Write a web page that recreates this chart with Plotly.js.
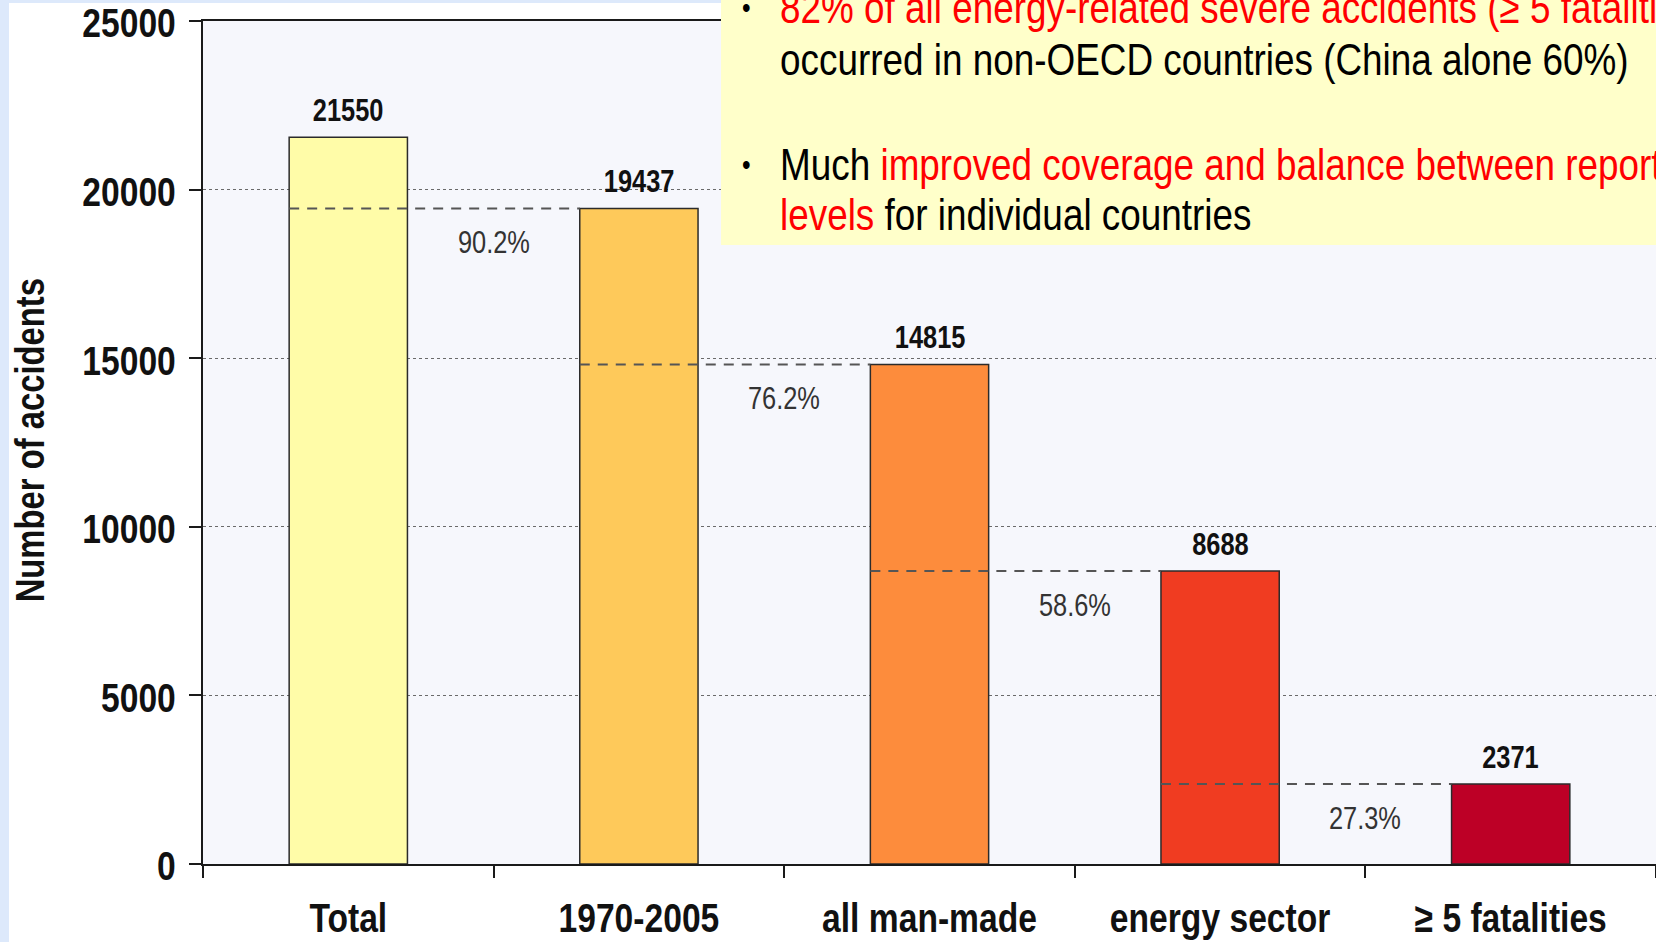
<!DOCTYPE html>
<html>
<head>
<meta charset="utf-8">
<script src="https://cdn.plot.ly/plotly-3.0.1.min.js"></script>
<style>
  html, body { margin:0; padding:0; width:1656px; height:942px; overflow:hidden; background:#dde9fb; }
  #chart { position:absolute; left:9px; top:0px; width:1647px; height:942px; }
</style>
</head>
<body>
<div id="chart"></div>
<script>
// ---- data ----
const categories = ['Total', '1970-2005', 'all man-made', 'energy sector', '\u2265 5 fatalities'];
const accidents = [21550, 19437, 14815, 8688, 2371];
const yTickValues = [0, 5000, 10000, 15000, 20000, 25000];
const yAxisLabel = 'Number of accidents';
const noteLines = [
  [{t: '82% of all energy-related severe accidents (\u2265 5 fatalities)', red: true}],
  [{t: 'occurred in non-OECD countries (China alone 60%)', red: false}],
  [{t: 'Much ', red: false}, {t: 'improved coverage and balance between reporting', red: true}],
  [{t: 'levels', red: true}, {t: ' for individual countries', red: false}]
];
const bulletLines = [0, 2];

// ---- style ----
const barColors = ['#fffca8', '#fec95a', '#fd8c3c', '#f03c21', '#bd0026'];
const FONT = '"Liberation Sans", Arial, sans-serif';
const NARROW_SCALE = 0.82;   // emulate a narrow face
const barWidth = 0.407;

const W = 1647, H = 942;
const M = {l: 194, r: 0, t: 21, b: 78};
const PW = W - M.l - M.r, PH = H - M.t - M.b;
const px2x = p => (p - 9 - M.l) / PW;     // page px -> paper x
const py2y = p => (H - M.b - p) / PH;     // page px -> paper y

const trace = {
  type: 'bar',
  x: categories,
  y: accidents,
  width: barWidth,
  marker: {color: barColors, line: {color: '#2b2b2b', width: 1.5}},
  hoverinfo: 'x+y'
};

const shapes = [];
const annotations = [];

// thin top strip of the slide background
shapes.push({type: 'rect', xref: 'paper', yref: 'paper', layer: 'below',
  x0: -1, x1: 2, y0: py2y(3), y1: py2y(-5),
  fillcolor: '#dde9fb', line: {width: 0}});

// note box
shapes.push({type: 'rect', xref: 'paper', yref: 'paper', layer: 'above',
  x0: px2x(721), x1: 1.2, y0: py2y(245), y1: 1.2,
  fillcolor: '#ffffca', line: {width: 0}});

// dashed reference lines + percentage labels
for (let i = 0; i < accidents.length - 1; i++) {
  shapes.push({type: 'line', xref: 'x', yref: 'y', layer: 'above',
    x0: i - barWidth / 2, x1: i + 1 - barWidth / 2,
    y0: accidents[i + 1], y1: accidents[i + 1],
    line: {color: '#555555', width: 2, dash: '10px,8px'}});
  annotations.push({xref: 'x', yref: 'y', x: i + 0.5, y: accidents[i + 1],
    yshift: -34, xanchor: 'center', yanchor: 'middle', showarrow: false,
    text: (accidents[i + 1] / accidents[i] * 100).toFixed(1) + '%',
    font: {family: FONT, size: 31, color: '#333333'}});
}

// value labels
accidents.forEach((v, i) => {
  annotations.push({xref: 'x', yref: 'y', x: i, y: v, yshift: 27,
    xanchor: 'center', yanchor: 'middle', showarrow: false,
    text: '<b>' + v + '</b>',
    font: {family: FONT, size: 31, color: '#111111'}});
});

// y-axis title
annotations.push({xref: 'paper', yref: 'paper', x: px2x(30), y: py2y(440),
  xanchor: 'center', yanchor: 'middle', showarrow: false, textangle: -90,
  text: '<b>' + yAxisLabel + '</b>',
  font: {family: FONT, size: 40, color: '#111111'}});

// note text
const lineY = [8, 60, 164, 214];
noteLines.forEach((segs, k) => {
  const txt = segs.map(s => s.red ? '<span style="color:#ff0000">' + s.t + '</span>' : s.t).join('');
  annotations.push({xref: 'paper', yref: 'paper', x: px2x(778), y: py2y(lineY[k]),
    xanchor: 'left', yanchor: 'middle', align: 'left', showarrow: false, text: txt,
    font: {family: FONT, size: 45, color: '#000000'}});
});
bulletLines.forEach(k => {
  annotations.push({xref: 'paper', yref: 'paper', x: px2x(746), y: py2y(lineY[k]),
    xanchor: 'center', yanchor: 'middle', showarrow: false, text: '\u2022',
    font: {family: FONT, size: 30, color: '#000000'}});
});

const layout = {
  width: W, height: H,
  margin: M,
  paper_bgcolor: '#ffffff',
  plot_bgcolor: '#f6f7fc',
  showlegend: false,
  xaxis: {
    type: 'category',
    range: [-0.5, categories.length - 0.5],
    showline: true, linecolor: '#1a1a1a', linewidth: 2, mirror: true,
    ticks: 'outside', tickson: 'boundaries', ticklen: 12, tickwidth: 2, tickcolor: '#1a1a1a',
    ticklabelstandoff: 17, tickangle: 0,
    showgrid: false, zeroline: false,
    tickfont: {family: FONT, size: 41, color: '#111111', weight: 'bold'}
  },
  yaxis: {
    range: [0, 25000],
    tickvals: yTickValues,
    ticktext: yTickValues.map(String),
    showline: true, linecolor: '#1a1a1a', linewidth: 2, mirror: false,
    ticks: 'outside', ticklen: 12, tickwidth: 2, tickcolor: '#1a1a1a',
    ticklabelstandoff: 5, ticklabeloverflow: 'allow',
    showgrid: true, gridcolor: '#6a6a6a', gridwidth: 1, griddash: '3px,3px',
    zeroline: false,
    tickfont: {family: FONT, size: 41, color: '#111111', weight: 'bold'}
  },
  shapes: shapes,
  annotations: annotations
};

Plotly.newPlot('chart', [trace], layout, {displayModeBar: false, staticPlot: true}).then(() => {
  document.querySelectorAll('#chart svg text').forEach(t => {
    const x = parseFloat(t.getAttribute('x') || '0') || 0;
    const prev = t.getAttribute('transform') || '';
    t.setAttribute('transform', prev + ' translate(' + x + ',0) scale(' + NARROW_SCALE + ',1) translate(' + (-x) + ',0)');
  });
  document.querySelectorAll('#chart svg .ytick text').forEach(t => {
    const prev = t.getAttribute('transform') || '';
    t.setAttribute('transform', 'translate(0,2) ' + prev);
  });
});
</script>
</body>
</html>
